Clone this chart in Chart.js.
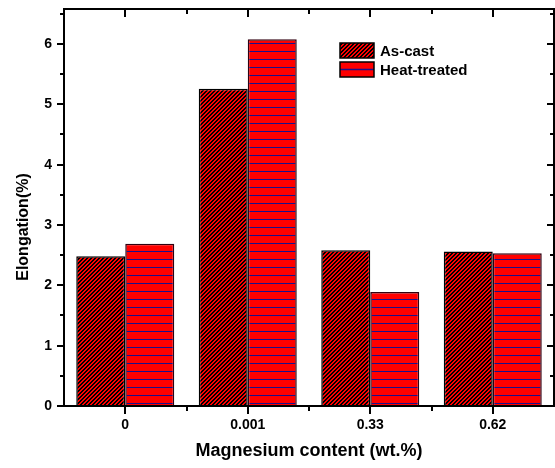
<!DOCTYPE html>
<html>
<head>
<meta charset="utf-8">
<script src="https://cdn.jsdelivr.net/npm/chart.js@4.4.0/dist/chart.umd.min.js"></script>
<style>
  html, body { margin: 0; padding: 0; background: #fff; }
  #chart { display: block; }
</style>
</head>
<body>
<canvas id="chart" width="555" height="468"></canvas>
<script>
// Data
const categories = ['0', '0.001', '0.33', '0.62'];
const seriesNames = ['As-cast', 'Heat-treated'];
const asCast = [2.48, 5.26, 2.58, 2.56];
const heatTreated = [2.69, 6.08, 1.89, 2.53];
const yMax = 6.58;

const FONT = 'Arial, "Liberation Sans", Helvetica, sans-serif';
const canvas = document.getElementById('chart');
const mainCtx = canvas.getContext('2d');

// Red fill with dense black "/" hatching, pixel aligned
function makeHatch() {
    const c = document.createElement('canvas');
    c.width = 4; c.height = 4;
    const g = c.getContext('2d');
    g.fillStyle = '#ff0000';
    g.fillRect(0, 0, 4, 4);
    g.fillStyle = '#000';
    for (let px = 0; px < 4; px++) {
        for (let py = 0; py < 4; py++) {
            if ((px + py) % 4 < 2) g.fillRect(px, py, 1, 1);
        }
    }
    return mainCtx.createPattern(c, 'repeat');
}

// Red fill with thin blue horizontal lines
function makeLines() {
    const c = document.createElement('canvas');
    c.width = 8; c.height = 8;
    const g = c.getContext('2d');
    g.fillStyle = '#ff0000';
    g.fillRect(0, 0, 8, 8);
    g.fillStyle = '#1a108c';
    g.fillRect(0, 3, 8, 1);
    return mainCtx.createPattern(c, 'repeat');
}

function seg(ctx, x1, y1, x2, y2) {
    ctx.beginPath();
    ctx.moveTo(x1, y1);
    ctx.lineTo(x2, y2);
    ctx.stroke();
}

function noEdgePadding(scale) {
    scale.paddingTop = 0;
    scale.paddingBottom = 0;
    scale.paddingLeft = 0;
    scale.paddingRight = 0;
}

// Box frame, mirrored tick marks, rotated y title and in-plot legend
const framePlugin = {
    id: 'frame',
    afterDraw(chart) {
        const { ctx, chartArea: a, scales: { x, y } } = chart;
        ctx.save();
        ctx.strokeStyle = '#000';
        ctx.lineWidth = 2;
        ctx.strokeRect(a.left, a.top, a.right - a.left, a.bottom - a.top);

        for (let v = 0; v <= y.max + 1e-9; v += 0.5) {
            const py = Math.round(y.getPixelForValue(v));
            const len = v % 1 === 0 ? 7 : 4;
            seg(ctx, a.left - len, py, a.left, py);
            seg(ctx, a.right - len, py, a.right, py);
        }
        categories.forEach((c, i) => {
            const px = Math.round(x.getPixelForValue(i));
            seg(ctx, px, a.bottom, px, a.bottom + 8);
            seg(ctx, px, a.top, px, a.top + 8);
            if (i > 0) {
                const bx = Math.round((x.getPixelForValue(i - 1) + x.getPixelForValue(i)) / 2);
                seg(ctx, bx, a.bottom, bx, a.bottom + 5);
                seg(ctx, bx, a.top, bx, a.top + 5);
            }
        });

        // y title
        ctx.save();
        ctx.translate(24, 227);
        ctx.rotate(-Math.PI / 2);
        ctx.fillStyle = '#000';
        ctx.font = 'bold 16px ' + FONT;
        ctx.textAlign = 'center';
        ctx.textBaseline = 'middle';
        ctx.fillText('Elongation(%)', 0, 0);
        ctx.restore();

        // legend
        const lx = 340, ly = 43, bw = 34, bh = 15, gap = 4;
        chart.data.datasets.forEach((ds, i) => {
            const by = ly + i * (bh + gap);
            if (i === 0) {
                ctx.fillStyle = ds.backgroundColor;
                ctx.fillRect(lx, by, bw, bh);
            } else {
                ctx.fillStyle = '#ff0000';
                ctx.fillRect(lx, by, bw, bh);
                ctx.strokeStyle = '#1a108c';
                ctx.lineWidth = 1.5;
                seg(ctx, lx, by + bh / 2, lx + bw, by + bh / 2);
            }
            ctx.strokeStyle = '#000';
            ctx.lineWidth = 1.5;
            ctx.strokeRect(lx, by, bw, bh);
            ctx.fillStyle = '#000';
            ctx.font = 'bold 15px ' + FONT;
            ctx.textAlign = 'left';
            ctx.textBaseline = 'middle';
            ctx.fillText(ds.label, lx + bw + 6, by + bh / 2 + 1);
        });
        ctx.restore();
    }
};

new Chart(canvas, {
    type: 'bar',
    data: {
        labels: categories,
        datasets: [
            {
                label: seriesNames[0],
                data: asCast,
                backgroundColor: makeHatch(),
                borderColor: '#000',
                borderWidth: 1.5
            },
            {
                label: seriesNames[1],
                data: heatTreated,
                backgroundColor: makeLines(),
                borderColor: '#300010',
                borderWidth: 1.5
            }
        ]
    },
    options: {
        responsive: false,
        animation: false,
        events: [],
        layout: { padding: { top: 9, right: 1, left: 0, bottom: 0 } },
        datasets: {
            bar: { categoryPercentage: 0.8, barPercentage: 1.0 }
        },
        plugins: {
            legend: { display: false },
            tooltip: { enabled: false }
        },
        scales: {
            x: {
                grid: { display: false, drawTicks: false },
                border: { display: false },
                ticks: {
                    color: '#000',
                    font: { family: FONT, size: 14, weight: 'bold' },
                    padding: 11
                },
                title: {
                    display: true,
                    text: 'Magnesium content (wt.%)',
                    color: '#000',
                    font: { family: FONT, size: 18, weight: 'bold' },
                    padding: { top: 0, bottom: 6 }
                },
                afterFit(scale) {
                    scale.height = 62;
                    noEdgePadding(scale);
                }
            },
            y: {
                min: 0,
                max: yMax,
                grid: { display: false, drawTicks: false },
                border: { display: false },
                ticks: {
                    stepSize: 1,
                    includeBounds: false,
                    color: '#000',
                    font: { family: FONT, size: 14, weight: 'bold' },
                    padding: 12
                },
                afterFit(scale) {
                    scale.width = 64;
                    noEdgePadding(scale);
                }
            }
        }
    },
    plugins: [framePlugin]
});
</script>
</body>
</html>
